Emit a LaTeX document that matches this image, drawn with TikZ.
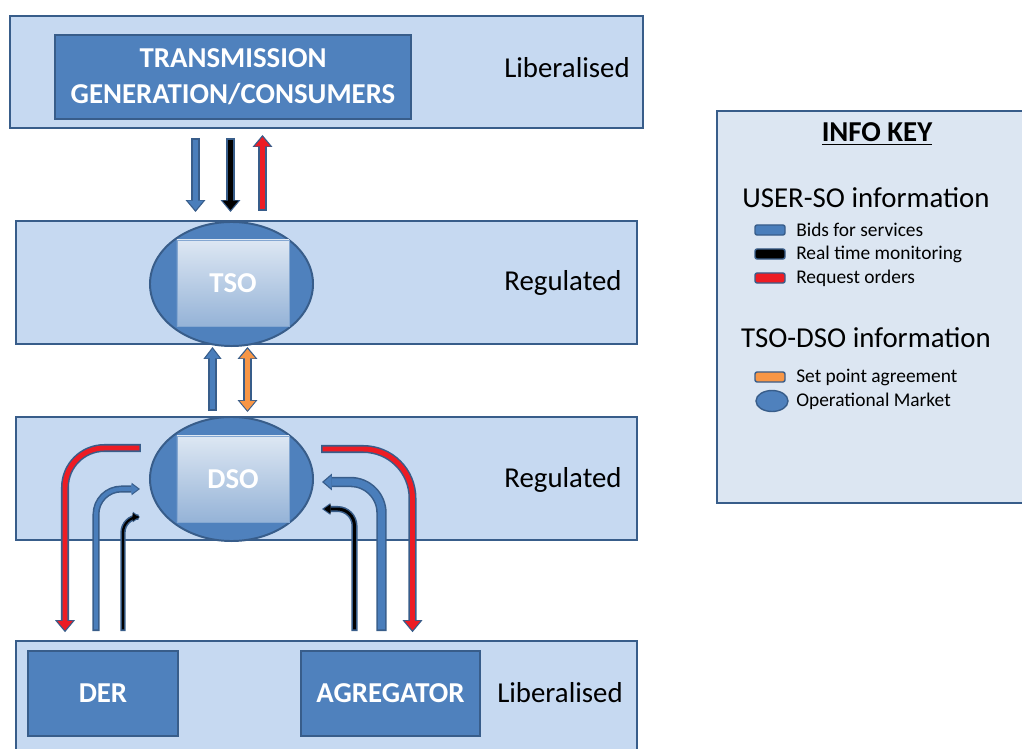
\documentclass[tikz,border=0pt]{standalone}
\usepackage{fontspec}
\setmainfont{Carlito}
\usetikzlibrary{arrows.meta, positioning, calc, shapes.geometric}

\definecolor{bandfill}{RGB}{198,217,241}
\definecolor{keyfill}{RGB}{220,230,242}
\definecolor{edgeblue}{RGB}{56,93,138}
\definecolor{boxblue}{RGB}{79,129,189}
\definecolor{bidblue}{RGB}{74,126,187}
\definecolor{reqred}{RGB}{237,28,36}
\definecolor{setorange}{RGB}{247,150,70}
\definecolor{softtop}{RGB}{221,231,243}
\definecolor{softbot}{RGB}{149,179,215}

% outlined block arrow: colour, shaft, head width, head length, tips, path
\newcommand{\fatarrow}[6]{%
  \draw[draw=edgeblue, line width=#2, arrows={#5},
    >={Triangle[width=#3, length=#4, line width=0pt]}] #6;
  \draw[draw=#1, line width=#2-2.2pt, arrows={#5},
    >={Triangle[width=#3, length=#4, line width=0pt, scale=0.78]},
    shorten >=1.4pt, shorten <=1.2pt] #6;
}

\tikzset{
  band/.style={draw=edgeblue, line width=1.4pt, fill=bandfill, inner sep=0pt},
  blockbox/.style={draw=edgeblue, line width=1.2pt, fill=boxblue, text=white,
    font=\bfseries\fontsize{20.5}{25.6}\selectfont, align=center, inner sep=0pt},
  market/.style={ellipse, draw=edgeblue, line width=1.4pt, fill=boxblue,
    minimum width=4.075cm, minimum height=3.1cm, inner sep=0pt},
  operator/.style={draw=boxblue!70, line width=0.6pt, top color=softtop, bottom color=softbot,
    minimum width=2.8cm, minimum height=2.15cm, text=white,
    font=\bfseries\fontsize{20.5}{25.6}\selectfont},
  level/.style={font=\fontsize{20.5}{25.6}\selectfont},
  swatch/.style={draw=edgeblue, line width=1pt, rounded corners=1.5pt,
    minimum width=0.75cm, minimum height=0.25cm, inner sep=0pt},
  keytext/.style={anchor=west, font=\fontsize{13.8}{16}\selectfont, inner sep=0pt},
}

\begin{document}
\begin{tikzpicture}[x=0.025cm, y=-0.025cm]
    \useasboundingbox (0,0) rectangle (1022,749);

    % Bands
    \node[band, minimum width=15.825cm, minimum height=2.8cm] (top) at (326.5,72) {};
    \node[band, minimum width=15.525cm, minimum height=3.075cm] (tsoband) at (326.5,282.5) {};
    \node[band, minimum width=15.525cm, minimum height=3.075cm] (dsoband) at (326.5,478.5) {};
    \node[band, minimum width=15.525cm, minimum height=3.2cm] (bottom) at (326.5,705) {};

    % Actors
    \node[blockbox, minimum width=8.9cm, minimum height=2.1cm] (trans) at (233,77)
        {TRANSMISSION\\GENERATION/CONSUMERS};
    \node[market] (tsoell) at (231.5,284) {};
    \node[operator] (tso) at (233,283) {TSO};
    \node[market] (dsoell) at (231.5,479) {};
    \node[operator] (dso) at (233,479) {DSO};
    \node[blockbox, minimum width=3.75cm, minimum height=2.125cm] (der) at (103,693.5) {DER};
    \node[blockbox, minimum width=4.475cm, minimum height=2.125cm] (agg) at (390.5,693.5) {AGREGATOR};

    % Level labels
    \node[level] (lib1) at (567,68) {Liberalised};
    \node[level] (reg1) at (563,283) {Regulated};
    \node[level] (reg2) at (563,480) {Regulated};
    \node[level] (lib2) at (560,693) {Liberalised};

    % Transmission <-> TSO
    \fatarrow{bidblue}{6.4pt}{14.2pt}{8.5pt}{->}{($(top.south -| tsoell)+(-36,9)$) -- ($(tsoell.north)+(-36,-9)$)}
    \fatarrow{black}{6.4pt}{14.2pt}{8.5pt}{->}{($(top.south -| tsoell)+(-1,9)$) -- ($(tsoell.north)+(-1,-9)$)}
    \fatarrow{reqred}{6.4pt}{14.2pt}{8.5pt}{->}{($(tsoell.north)+(31,-10)$) -- ($(top.south -| tsoell)+(31,6)$)}

    % TSO <-> DSO
    \fatarrow{bidblue}{6.4pt}{13pt}{8.5pt}{->}{($(dsoell.north)+(-19,-5)$) -- ($(tsoell.south)+(-19,0)$)}
    \fatarrow{setorange}{6.4pt}{14.2pt}{8.5pt}{<->}{($(dsoell.north)+(16,-4)$) -- ($(tsoell.south)+(16,0)$)}

    % DER side
    \fatarrow{reqred}{5.7pt}{14.2pt}{8.5pt}{->}{[rounded corners=28pt] ($(dsoell.west)+(-8,-31)$) -| ($(der.north)+(-38,-18)$)}
    \fatarrow{bidblue}{5pt}{9pt}{6pt}{->}{[rounded corners=18pt] ($(der.north)+(-7,-19)$) |- ($(dsoell.west)+(-9,10)$)}
    \fatarrow{black}{3.8pt}{7.5pt}{5pt}{->}{[rounded corners=11pt] ($(der.north)+(20,-19)$) |- ($(dsoell.west)+(-9,38)$)}

    % Agregator side
    \fatarrow{reqred}{5.7pt}{14.2pt}{8.5pt}{->}{[rounded corners=35pt] ($(dsoell.east)+(7,-30)$) -| ($(agg.north)+(22,-18)$)}
    \fatarrow{bidblue}{7.4pt}{12pt}{7pt}{->}{[rounded corners=22pt] ($(agg.north)+(-9,-19)$) |- ($(dsoell.east)+(8,3)$)}
    \fatarrow{black}{4.3pt}{8.5pt}{6pt}{->}{[rounded corners=12pt] ($(agg.north)+(-36,-19)$) |- ($(dsoell.east)+(8,30)$)}

    % Info key
    \node[draw=edgeblue, line width=1.4pt, fill=keyfill, minimum width=7.9cm, minimum height=9.8cm,
        inner sep=0pt] (key) at (875,307) {};
    \node[font=\bfseries\fontsize{20.5}{25}\selectfont] (keytitle) at (877,134) {\underline{INFO KEY}};
    \node[level] (userso) at (866,198) {USER-SO information};
    \node[swatch, fill=bidblue] (sw1) at (770,230) {};
    \node[keytext] (bids) at (796,230) {Bids for services};
    \node[swatch, fill=black] (sw2) at (770,254) {};
    \node[keytext] (mon) at (796,254) {Real time monitoring};
    \node[swatch, fill=reqred] (sw3) at (770,278) {};
    \node[keytext] (req) at (796,278) {Request orders};
    \node[level] (tsodso) at (866,338) {TSO-DSO information};
    \node[swatch, fill=setorange] (sw4) at (770,377) {};
    \node[keytext] (setp) at (796,377) {Set point agreement};
    \node[ellipse, draw=edgeblue, line width=1pt, fill=boxblue, minimum width=0.8cm,
        minimum height=0.525cm, inner sep=0pt] (sw5) at (772,401) {};
    \node[keytext] (opm) at (796,401) {Operational Market};
\end{tikzpicture}
\end{document}
